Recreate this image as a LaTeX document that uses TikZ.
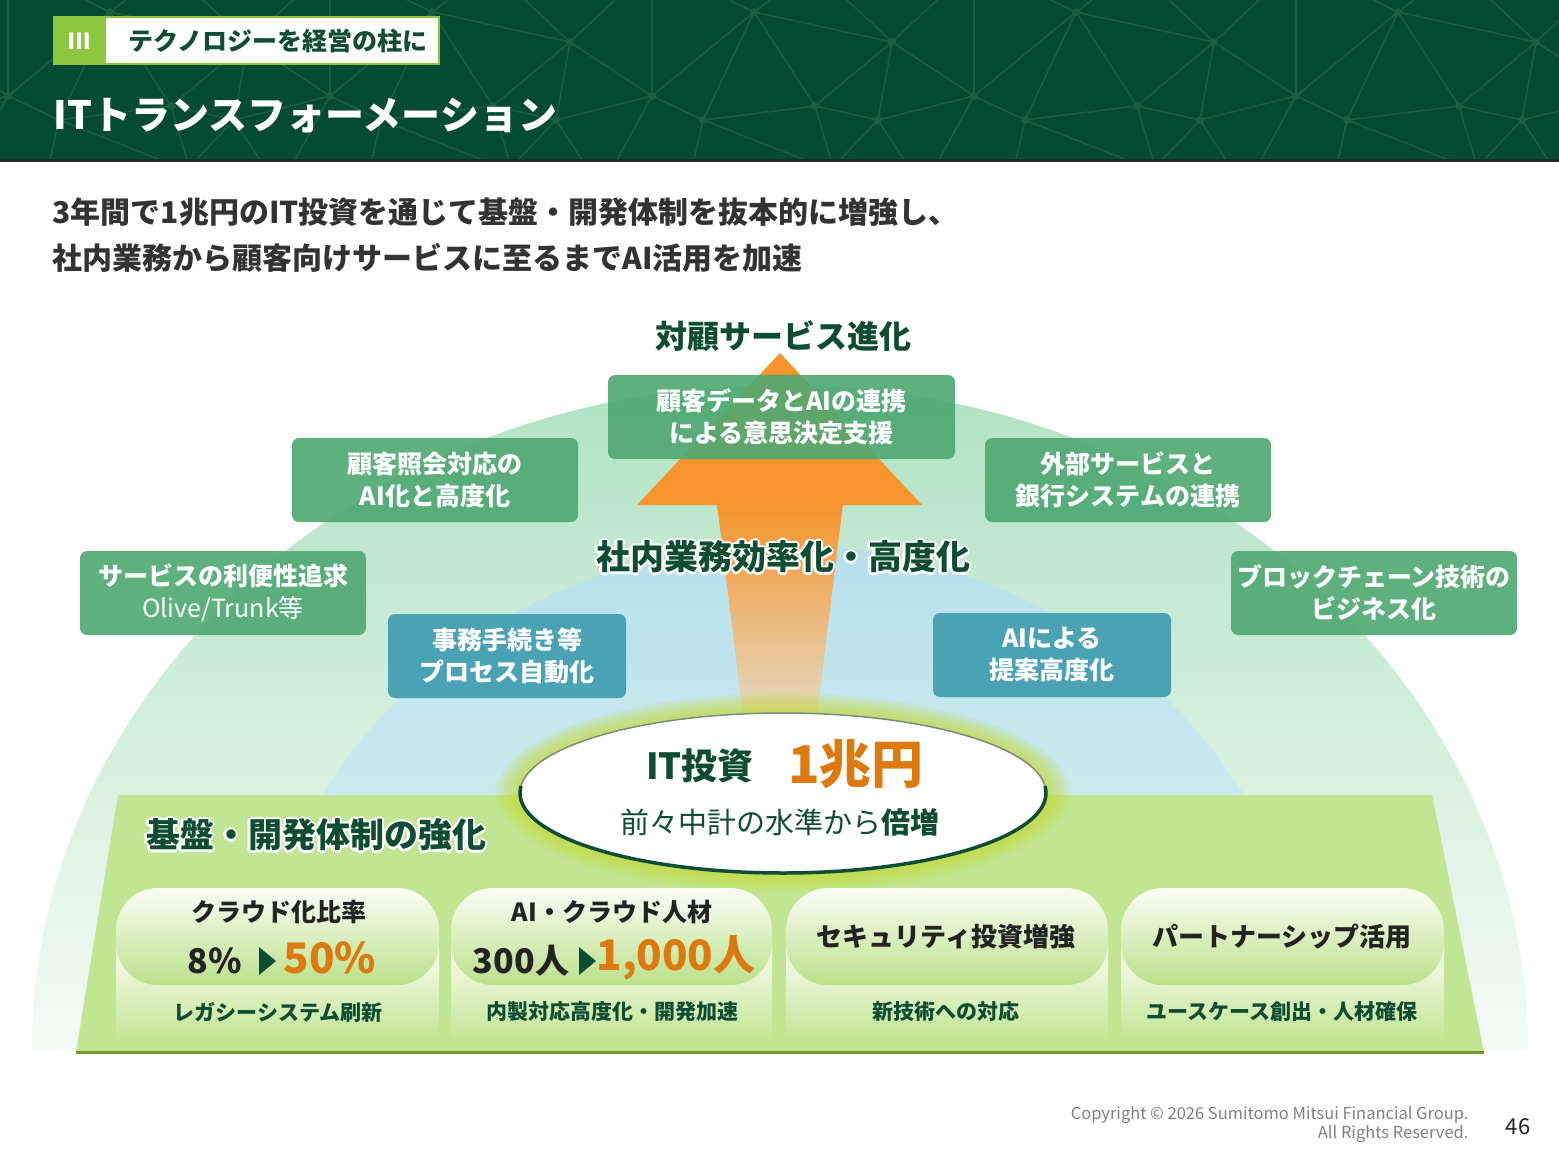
\documentclass[tikz,border=0pt]{standalone}
\usepackage{fontspec}
\setmainfont{Noto Sans CJK JP}
\usetikzlibrary{shapes.geometric, positioning}

\newcommand{\fsz}[1]{\fontsize{#1}{#1}\selectfont}

\definecolor{hdrgreen}{RGB}{5,74,50}
\definecolor{netgreen}{RGB}{26,94,66}
\definecolor{taggreen}{RGB}{140,198,63}
\definecolor{darkgreen}{RGB}{14,77,52}
\definecolor{leadgray}{RGB}{51,51,51}
\definecolor{domegreen}{RGB}{176,226,194}
\definecolor{domegreenlow}{RGB}{244,251,247}
\definecolor{domeblue}{RGB}{182,224,236}
\definecolor{domebluelow}{RGB}{226,243,247}
\definecolor{arroworange}{RGB}{247,148,45}
\definecolor{arrowmid}{RGB}{238,178,118}
\definecolor{arrowbeige}{RGB}{226,216,192}
\definecolor{boxgreen}{RGB}{78,168,114}
\definecolor{boxteal}{RGB}{74,162,181}
\definecolor{basegreen}{RGB}{193,229,146}
\definecolor{baseolive}{RGB}{118,150,45}
\definecolor{glowc}{RGB}{196,220,50}
\definecolor{yenorange}{RGB}{221,122,15}
\definecolor{cardtop}{RGB}{250,253,245}
\definecolor{cardbottom}{RGB}{196,230,150}
\definecolor{pilltop}{RGB}{251,253,246}
\definecolor{pillbottom}{RGB}{186,225,138}
\definecolor{textdark}{RGB}{35,35,35}
\definecolor{coregray}{RGB}{120,140,130}
\definecolor{copygray}{RGB}{128,128,128}

\tikzset{
  netline/.style={netgreen, line width=1.6},
  tagtext/.style={text=darkgreen, font=\bfseries\fsz{25}},
  titletext/.style={anchor=west, text=white, font=\bfseries\fsz{39}},
  leadtext/.style={anchor=west, text=leadgray, font=\bfseries\fsz{30}},
  headtext/.style={text=darkgreen, font=\bfseries\fsz{34}},
  halo/.style={text=white, font=\bfseries\fsz{34}},
  svcbox/.style={rounded corners=7, fill=boxgreen, fill opacity=0.9, text opacity=1,
    text=white, font=\bfseries\fontsize{25}{32}\selectfont, align=center,
    minimum height=84, minimum width=286, inner sep=0},
  opsbox/.style={svcbox, fill=boxteal, fill opacity=1, minimum width=238},
  core/.style={ellipse, draw=coregray, line width=1.5, fill=white,
    minimum width=526, minimum height=160, inner sep=0},
  pill/.style={rounded corners=42, top color=pilltop, bottom color=pillbottom},
  cardbase/.style={top color=cardtop, bottom color=cardbottom},
  cardtitle/.style={text=textdark, font=\bfseries\fsz{25}},
  cardvalue/.style={text=textdark, font=\bfseries\fsz{34}},
  cardbig/.style={text=yenorange, font=\bfseries\fsz{42}},
  cardnote/.style={text=darkgreen, font=\bfseries\fsz{21}},
  copytext/.style={anchor=east, text=copygray, font=\fsz{16.5}}
}

\begin{document}
\begin{tikzpicture}[x=1pt,y=-1pt]
\useasboundingbox (0,0) rectangle (1559,1162);
\fill[white] (0,0) rectangle (1559,1162);

% header band
\fill[hdrgreen] (0,0) rectangle (1559,160);
\begin{scope}
  \clip (0,0) rectangle (1559,160);
  \foreach \t in {-3,...,3}{
    \begin{scope}[shift={(570+322*\t,0)}]
      \draw[netline] (0,42)--(82,96) (82,96)--(133,120) (82,96)--(184,12)
        (133,120)--(184,12) (133,120)--(245,106) (184,12)--(245,106)
        (184,12)--(322,42) (245,106)--(322,42) (245,106)--(308,120)
        (322,42)--(308,120) (308,120)--(404,96)
        (0,42)--(-45,0) (0,42)--(45,0) (184,12)--(159,0) (184,12)--(200,0)
        (82,96)--(82,0) (82,96)--(47,160) (133,120)--(124,160)
        (133,120)--(235,160) (245,106)--(261,160) (308,120)--(270,160)
        (308,120)--(334,160);
      \fill[netgreen] (0,42) circle (4) (82,96) circle (4) (133,120) circle (4)
        (184,12) circle (4) (245,106) circle (4) (308,120) circle (4);
    \end{scope}
  }
\end{scope}
\fill[black!85] (0,159) rectangle (1559,162);

% chapter tag and title
\fill[taggreen] (53,16) rectangle (105,65);
\draw[taggreen, line width=2, fill=white] (105,17) rectangle (439,64);
\node[text=white, font=\bfseries\fsz{22}] (tagnum) at (79,41) {Ⅲ};
\node[tagtext] (tagtitle) at (278,41) {テクノロジーを経営の柱に};
\node[titletext] (title) at (50,116) {ITトランスフォーメーション};

% lead text
\node[leadtext] (lead1) at (49,212) {3年間で1兆円のIT投資を通じて基盤・開発体制を抜本的に増強し、};
\node[leadtext] (lead2) at (49,258) {社内業務から顧客向けサービスに至るまでAI活用を加速};

% domes
\shade[top color=domegreen, bottom color=domegreenlow] (32,1050) arc (180:360:748 and 665) -- cycle;
\shade[top color=domeblue, bottom color=domebluelow] (249,1050) arc (180:360:534 and 505) -- cycle;

% orange arrow
\fill[arroworange] (780,353)--(922,505)--(637,505)--cycle;
\shade[top color=arroworange, middle color=arrowmid, bottom color=arrowbeige]
  (717,504)--(843,504)--(817,715)--(743,715)--cycle;

% headings
\node[text=darkgreen, font=\bfseries\fsz{32}] (svchead) at (783,336) {対顧サービス進化};
\foreach \dx/\dy in {-2.5/0,2.5/0,0/-2.5,0/2.5,-1.8/-1.8,1.8/1.8,-1.8/1.8,1.8/-1.8}
  \node[halo] at (783+\dx,557+\dy) {社内業務効率化・高度化};
\node[headtext] (opshead) at (783,557) {社内業務効率化・高度化};

% service boxes
\node[svcbox, minimum width=347] (datai) at (781.5,417) {顧客データとAIの連携\\による意思決定支援};
\node[svcbox] (inquiry) at (435,480) {顧客照会対応の\\AI化と高度化};
\node[svcbox] (external) at (1128,480) {外部サービスと\\銀行システムの連携};
\node[svcbox] (olive) at (223,593) {サービスの利便性追求\\{\mdseries Olive/Trunk等}};
\node[svcbox] (chain) at (1374,593) {ブロックチェーン技術の\\ビジネス化};
\node[opsbox] (process) at (507,656) {事務手続き等\\プロセス自動化};
\node[opsbox] (propose) at (1052,655) {AIによる\\提案高度化};

% foundation trapezoid
\fill[basegreen] (118,795)--(1432,795)--(1484,1052)--(76,1052)--cycle;
\draw[baseolive, line width=3] (76,1052)--(1484,1052);
\foreach \dx/\dy in {-2.5/0,2.5/0,0/-2.5,0/2.5,-1.8/-1.8,1.8/1.8,-1.8/1.8,1.8/-1.8}
  \node[halo] at (316+\dx,835+\dy) {基盤・開発体制の強化};
\node[headtext] (basehead) at (316,835) {基盤・開発体制の強化};

% core ellipse
\foreach \g in {1,...,10}
  \fill[glowc, opacity=0.1] (783,793) ellipse [x radius=263+2.5*\g, y radius=80+2*\g];
\node[core] (core) at (783,793) {};
\draw[darkgreen, line width=3.5] ([shift={(185:263 and 80)}]core.center) arc (185:-5:263 and 80);
\node[text=darkgreen, font=\bfseries\fsz{36}] (itinv) at (700,766) {IT投資};
\node[text=yenorange, font=\bfseries\fsz{52}] (yen) at (856,764) {1兆円};
\node[text=darkgreen, font=\fsz{29}] (double) at (780,822) {前々中計の水準から\textbf{倍増}};

% cards
\shade[cardbase] (116,945) rectangle (439,1036);
\shade[cardbase] (451,945) rectangle (772,1036);
\shade[cardbase] (786,945) rectangle (1108,1036);
\shade[cardbase] (1121,945) rectangle (1444,1036);
\shade[pill] (116,888) rectangle (439,985);
\shade[pill] (451,888) rectangle (772,985);
\shade[pill] (786,888) rectangle (1108,985);
\shade[pill] (1121,888) rectangle (1444,985);

\node[cardtitle] (cloud) at (279,912) {クラウド化比率};
\node[cardvalue] (cloudnow) at (215,961) {8\%};
\fill[darkgreen] (259,947)--(276,961)--(259,975)--cycle;
\node[cardbig] (cloudgoal) at (330,958) {50\%};
\node[cardnote] (legacy) at (278,1012) {レガシーシステム刷新};

\node[cardtitle] (talent) at (612,912) {AI・クラウド人材};
\node[cardvalue] (talentnow) at (521,961) {300人};
\fill[darkgreen] (579,947)--(596,961)--(579,975)--cycle;
\node[cardbig] (talentgoal) at (676,958) {1,000人};
\node[cardnote] (inhouse) at (612,1012) {内製対応高度化・開発加速};

\node[cardtitle, font=\bfseries\fsz{26}] (security) at (946,937) {セキュリティ投資増強};
\node[cardnote] (newtech) at (946,1012) {新技術への対応};

\node[cardtitle, font=\bfseries\fsz{26}] (partner) at (1282,937) {パートナーシップ活用};
\node[cardnote] (usecase) at (1282,1012) {ユースケース創出・人材確保};

% footer
\node[copytext] (copy1) at (1472,1115) {Copyright © 2026 Sumitomo Mitsui Financial Group.};
\node[copytext] (copy2) at (1472,1134) {All Rights Reserved.};
\node[text=textdark, font=\fsz{22}] (page) at (1518,1127) {46};
\end{tikzpicture}
\end{document}
